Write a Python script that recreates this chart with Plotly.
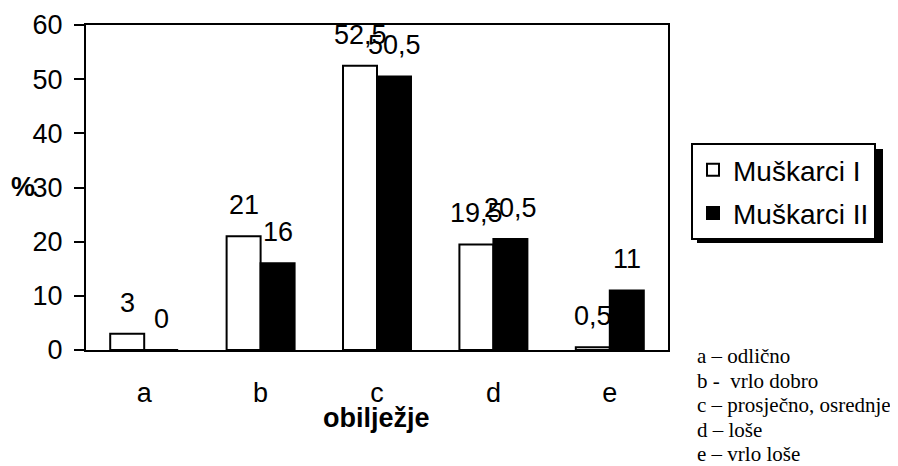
import plotly.graph_objects as go

categories = ["a", "b", "c", "d", "e"]
muskarci_1 = [3, 21, 52.5, 19.5, 0.5]
muskarci_2 = [0, 16, 50.5, 20.5, 11]
series_names = ["Muškarci I", "Muškarci II"]
y_ticks = [0, 10, 20, 30, 40, 50, 60]
notes = ["a – odlično", "b -  vrlo dobro", "c – prosječno, osrednje", "d – loše", "e – vrlo loše"]

SANS = "Liberation Sans, Arial, sans-serif"
SERIF = "Liberation Serif, Times New Roman, serif"
FS = 27

def fmt(v):
    s = ("%g" % v)
    return s.replace(".", ",")

# page body has an 8px margin: work in screen pixels, convert to figure pixels
OFF = 8
W, H = 898 - OFF, 466 - OFF
PL, PR, PT, PB = 86, 668, 25, 350          # plot area in screen pixels
L, T = PL - OFF, PT - OFF
R, B = W - (PR - OFF), H - (PB - OFF)
pw, ph = PR - PL, PB - PT

def px(x):
    return (x - PL) / pw

def py(y):
    return (PB - y) / ph

fig = go.Figure()
fig.add_trace(go.Bar(x=categories, y=muskarci_1, name=series_names[0],
                     marker=dict(color="white", line=dict(color="black", width=2)),
                     legendgroup="g1"))
fig.add_trace(go.Bar(x=categories, y=muskarci_2, name=series_names[1],
                     marker=dict(color="black", line=dict(color="black", width=2)),
                     legendgroup="g2"))

annotations = []
for vals, shift in ((muskarci_1, -17), (muskarci_2, 17)):
    for c, v in zip(categories, vals):
        annotations.append(dict(x=c, y=v, xref="x", yref="y", text=fmt(v), showarrow=False,
                                xshift=shift, yshift=14, yanchor="bottom", xanchor="center",
                                font=dict(family=SANS, size=FS, color="black")))

annotations.append(dict(x=px(23), y=py(187), xref="paper", yref="paper", text="<b>%</b>",
                        showarrow=False, xanchor="center", yanchor="middle",
                        font=dict(family=SANS, size=FS, color="black")))
annotations.append(dict(x=px(376), y=py(418), xref="paper", yref="paper", text="<b>obilježje</b>",
                        showarrow=False, xanchor="center", yanchor="middle",
                        font=dict(family=SANS, size=FS, color="black")))
for i, t in enumerate(notes):
    annotations.append(dict(x=px(695), y=py(356 + 24.5 * i), xref="paper", yref="paper", text=t,
                            showarrow=False, xanchor="left", yanchor="middle",
                            font=dict(family=SERIF, size=21, color="black")))

fig.update_layout(
    width=W, height=H,
    margin=dict(l=L, r=R, t=T, b=B, pad=0, autoexpand=False),
    paper_bgcolor="white", plot_bgcolor="white",
    barmode="group", bargap=0.416, bargroupgap=0,
    font=dict(family=SANS, size=FS, color="black"),
    showlegend=True,
    legend=dict(x=px(691), y=py(143), xanchor="left", yanchor="top",
                bgcolor="white", bordercolor="black", borderwidth=2,
                font=dict(family=SANS, size=28, color="black"),
                traceorder="grouped", tracegroupgap=4),
    annotations=annotations,
    shapes=[dict(type="rect", xref="paper", yref="paper",
                 x0=px(697), x1=px(883), y0=py(243), y1=py(149),
                 fillcolor="black", line=dict(width=0), layer="above")],
)
fig.update_xaxes(showline=True, linecolor="black", linewidth=2, mirror=True,
                 ticks="", showgrid=False, ticklabelstandoff=18,
                 tickfont=dict(family=SANS, size=FS))
fig.update_yaxes(range=[0, 60], tickvals=y_ticks, showline=True, linecolor="black", linewidth=2,
                 mirror=True, ticks="outside", ticklen=10, tickwidth=2, tickcolor="black",
                 showgrid=False, zeroline=False, ticklabelstandoff=6,
                 tickfont=dict(family=SANS, size=FS))

fig.write_html("out.html")
